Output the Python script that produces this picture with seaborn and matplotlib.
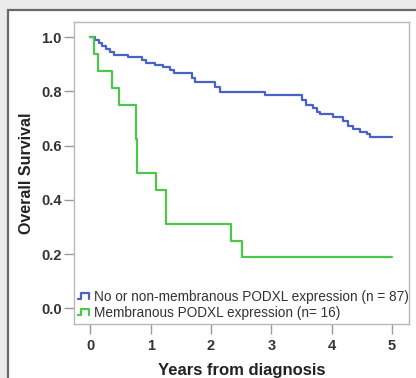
import matplotlib
matplotlib.use("Agg")
import matplotlib.pyplot as plt
import matplotlib.patches as mpatches
from matplotlib.lines import Line2D
from matplotlib.legend_handler import HandlerLine2D
import seaborn as sns
import pandas as pd

# ---- data ----
group_labels = ["No or non-membranous PODXL expression (n = 87)",
                "Membranous PODXL expression (n= 16)"]

blue_time = [0.0, 0.08, 0.14, 0.20, 0.26, 0.32, 0.40, 0.63, 0.85, 0.93, 1.07, 1.21,
             1.32, 1.39, 1.68, 1.73, 2.06, 2.15, 2.89, 3.50, 3.58, 3.69, 3.75, 3.80,
             4.02, 4.19, 4.27, 4.35, 4.47, 4.58, 4.63, 5.0]
blue_surv = [1.0, 0.989, 0.978, 0.967, 0.956, 0.945, 0.935, 0.926, 0.916, 0.906, 0.898, 0.889,
             0.879, 0.869, 0.851, 0.834, 0.815, 0.797, 0.785, 0.769, 0.750, 0.738, 0.725, 0.716,
             0.707, 0.689, 0.673, 0.661, 0.652, 0.643, 0.633, 0.633]

green_time = [0.0, 0.066, 0.12, 0.36, 0.48, 0.757, 0.78, 1.09, 1.25, 2.33, 2.52, 5.0]
green_surv = [1.0, 0.9375, 0.875, 0.8125, 0.75, 0.625, 0.5, 0.4375, 0.3125, 0.25, 0.1875, 0.1875]

x_ticks = [0, 1, 2, 3, 4, 5]
y_ticks = [0.0, 0.2, 0.4, 0.6, 0.8, 1.0]

df = pd.concat([
    pd.DataFrame({"t": blue_time, "s": blue_surv, "g": group_labels[0]}),
    pd.DataFrame({"t": green_time, "s": green_surv, "g": group_labels[1]}),
], ignore_index=True)


class StepHandler(HandlerLine2D):
    """Legend icon shaped like a small step."""
    def create_artists(self, legend, orig_handle, xdescent, ydescent, width, height,
                       fontsize, trans):
        x0 = -xdescent
        y0 = -ydescent
        xs = [x0, x0 + width * 0.3, x0 + width * 0.3, x0 + width, x0 + width]
        ys = [y0 + height * 0.15, y0 + height * 0.15, y0 + height * 0.85,
              y0 + height * 0.85, y0 + height * 0.15]
        line = Line2D(xs, ys, color=orig_handle.get_color(),
                      linewidth=orig_handle.get_linewidth(), transform=trans)
        return [line]


sns.set_style("white")
plt.rcParams["font.family"] = ["Liberation Sans", "DejaVu Sans"]

fig = plt.figure(figsize=(4.16, 3.78), dpi=100)
fig.patch.set_facecolor("#ebebeb")

# outer white panel with dark border
panel = mpatches.Rectangle((8 / 416, -0.2), 1.2, 1.2 - 10 / 378, transform=fig.transFigure,
                           facecolor="white", edgecolor="#6a6a6a", linewidth=1.6, zorder=-10)
fig.patches.append(panel)

ax = fig.add_axes([74 / 416, 1 - 324 / 378, (409 - 74) / 416, (324 - 22) / 378])
ax.set_zorder(5)
ax.set_facecolor("white")

palette = {group_labels[0]: "#4863c3", group_labels[1]: "#4cc74c"}
sns.lineplot(data=df, x="t", y="s", hue="g", hue_order=group_labels, palette=palette,
             estimator=None, drawstyle="steps-post", linewidth=1.6, ax=ax)

ax.set_xlim(-0.27, 5.28)
ax.set_ylim(-0.058, 1.056)
ax.set_xticks(x_ticks)
ax.set_xticklabels([str(v) for v in x_ticks])
ax.set_yticks(y_ticks)
ax.set_yticklabels([f"{v:.1f}" for v in y_ticks])

for sp in ax.spines.values():
    sp.set_visible(True)
    sp.set_color("#b8b8b8")
    sp.set_linewidth(1.0)

ax.tick_params(axis="both", which="major", bottom=True, left=True, top=False, right=False,
               direction="out", length=7, width=1.0, color="#9a9a9a",
               labelsize=10.5, labelcolor="#333333", pad=2)
ax.tick_params(axis="x", pad=4)
for lab in ax.get_xticklabels() + ax.get_yticklabels():
    lab.set_fontweight("bold")

ax.set_xlabel("Years from diagnosis", fontsize=12, fontweight="bold", color="#222222", labelpad=7)
ax.set_ylabel("Overall Survival", fontsize=11.5, fontweight="bold", color="#222222", labelpad=5)

handles = [Line2D([], [], color=palette[g], linewidth=1.6) for g in group_labels]
leg = ax.legend(handles, group_labels, loc="lower left", frameon=False, fontsize=9.8,
                handlelength=0.8, handletextpad=0.35, borderaxespad=0.1, labelspacing=0.15,
                borderpad=0.2, handler_map={Line2D: StepHandler()})
for t in leg.get_texts():
    t.set_color("#333333")

fig.savefig("out.png", dpi=100, facecolor=fig.get_facecolor())
